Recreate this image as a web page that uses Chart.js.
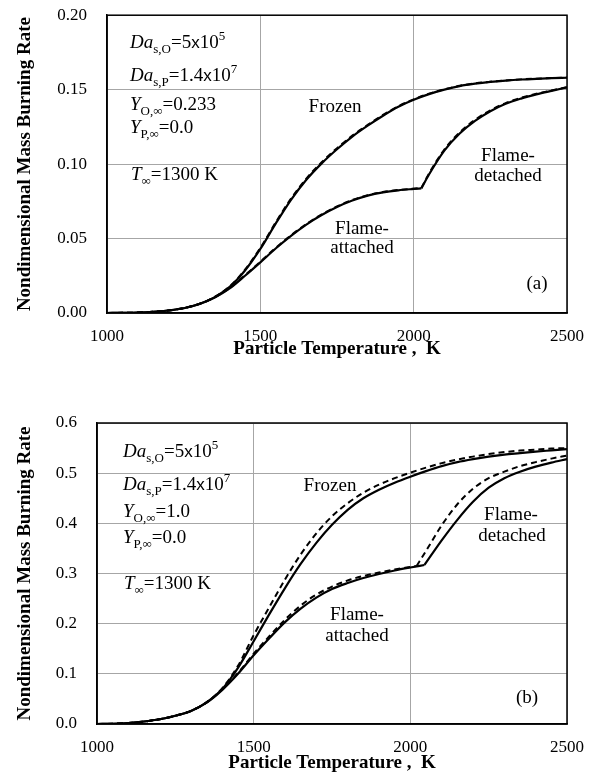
<!DOCTYPE html>
<html>
<head>
<meta charset="utf-8">
<script src="https://cdn.jsdelivr.net/npm/chart.js@4.4.1/dist/chart.umd.min.js"></script>
<style>
  body { margin: 0; background: #fff; }
  .panel { position: absolute; left: 0; width: 597px; }
  #panel-a { top: -15px; height: 377px; }
  #panel-b { top: 380px; height: 396px; }
</style>
</head>
<body>
<div class="panel" id="panel-a"><canvas id="chart-a" width="597" height="377"></canvas></div>
<div class="panel" id="panel-b"><canvas id="chart-b" width="597" height="396"></canvas></div>
<script>
// Particle temperature grid (K)
const temps = [1000, 1050, 1100, 1150, 1200, 1250, 1300, 1350, 1400, 1450, 1500,
               1550, 1600, 1650, 1700, 1750, 1800, 1850, 1900, 1950, 2000,
               2050, 2100, 2150, 2200, 2250, 2300, 2350, 2400, 2450, 2500];

// --- panel (a): Y_O = 0.233 ---
const frozenA     = [0, 0.0001, 0.0003, 0.0008, 0.0017, 0.0032, 0.0060, 0.0105, 0.0175, 0.0285, 0.0430,
                     0.0600, 0.0760, 0.0895, 0.1005, 0.1100, 0.1185, 0.1258, 0.1325, 0.1385, 0.1432,
                     0.1470, 0.1500, 0.1524, 0.1540, 0.1552, 0.1561, 0.1568, 0.1573, 0.1577, 0.1580];
const frozenADash = [0, 0.0001, 0.0003, 0.0008, 0.0017, 0.0033, 0.0061, 0.0107, 0.0179, 0.0291, 0.0437,
                     0.0608, 0.0768, 0.0903, 0.1012, 0.1107, 0.1191, 0.1263, 0.1330, 0.1389, 0.1435,
                     0.1473, 0.1502, 0.1526, 0.1542, 0.1553, 0.1562, 0.1569, 0.1574, 0.1578, 0.1581];

const attachedTempsA = [1000, 1050, 1100, 1150, 1200, 1250, 1300, 1350, 1400, 1450, 1500,
                        1550, 1600, 1650, 1700, 1750, 1800, 1850, 1900, 1950, 2000, 2025];
const attachedA     = [0, 0.0001, 0.0003, 0.0008, 0.0017, 0.0032, 0.0059, 0.0102, 0.0165, 0.0250, 0.0340,
                       0.0433, 0.0518, 0.0594, 0.0658, 0.0712, 0.0755, 0.0788, 0.0810, 0.0824, 0.0833, 0.0837];
const attachedADash = [0, 0.0001, 0.0003, 0.0008, 0.0017, 0.0033, 0.0060, 0.0104, 0.0168, 0.0254, 0.0344,
                       0.0437, 0.0522, 0.0598, 0.0662, 0.0716, 0.0759, 0.0791, 0.0813, 0.0826, 0.0835, 0.0839];

const detachedTempsA = [2025, 2050, 2100, 2150, 2200, 2250, 2300, 2350, 2400, 2450, 2500];
const detachedA      = [0.0837, 0.0930, 0.1090, 0.1205, 0.1290, 0.1355, 0.1405, 0.1440, 0.1468, 0.1492, 0.1515];
const detachedADash  = [0.0839, 0.0937, 0.1098, 0.1213, 0.1297, 0.1361, 0.1410, 0.1445, 0.1472, 0.1495, 0.1517];

// --- panel (b): Y_O = 1.0 ---
const frozenB     = [0, 0.0005, 0.0020, 0.0050, 0.0095, 0.0165, 0.0260, 0.0430, 0.0700, 0.1120, 0.1650,
                     0.2190, 0.2710, 0.3190, 0.3610, 0.3970, 0.4270, 0.4500, 0.4670, 0.4810, 0.4930,
                     0.5040, 0.5140, 0.5220, 0.5280, 0.5330, 0.5370, 0.5400, 0.5430, 0.5455, 0.5480];
const frozenBDash = [0, 0.0005, 0.0020, 0.0050, 0.0095, 0.0165, 0.0262, 0.0435, 0.0715, 0.1160, 0.1770,
                     0.2330, 0.2880, 0.3380, 0.3800, 0.4140, 0.4400, 0.4610, 0.4770, 0.4900, 0.5010,
                     0.5110, 0.5200, 0.5270, 0.5330, 0.5380, 0.5420, 0.5450, 0.5470, 0.5490, 0.5500];

const attachedTempsB     = [1000, 1050, 1100, 1150, 1200, 1250, 1300, 1350, 1400, 1450, 1500,
                            1550, 1600, 1650, 1700, 1750, 1800, 1850, 1900, 1950, 2000, 2045];
const attachedB          = [0, 0.0005, 0.0020, 0.0050, 0.0095, 0.0165, 0.0260, 0.0425, 0.0680, 0.1000, 0.1370,
                            0.1710, 0.2030, 0.2300, 0.2520, 0.2690, 0.2810, 0.2910, 0.2990, 0.3060, 0.3120, 0.3170];
const attachedDashTempsB = [1000, 1050, 1100, 1150, 1200, 1250, 1300, 1350, 1400, 1450, 1500,
                            1550, 1600, 1650, 1700, 1750, 1800, 1850, 1900, 1950, 2000, 2020];
const attachedBDash      = [0, 0.0005, 0.0020, 0.0050, 0.0095, 0.0165, 0.0262, 0.0430, 0.0690, 0.1020, 0.1400,
                            0.1750, 0.2080, 0.2360, 0.2580, 0.2740, 0.2860, 0.2950, 0.3020, 0.3080, 0.3130, 0.3150];

const detachedTempsB     = [2045, 2100, 2150, 2200, 2250, 2300, 2350, 2400, 2450, 2500];
const detachedB          = [0.317, 0.366, 0.407, 0.443, 0.471, 0.490, 0.503, 0.513, 0.521, 0.528];
const detachedDashTempsB = [2020, 2050, 2100, 2150, 2200, 2250, 2300, 2350, 2400, 2450, 2500];
const detachedBDash      = [0.315, 0.345, 0.396, 0.438, 0.469, 0.490, 0.503, 0.514, 0.522, 0.529, 0.535];

// Axis ticks
const xTicks  = [1000, 1500, 2000, 2500];
const yTicksA = [0, 0.05, 0.10, 0.15, 0.20];
const yTicksB = [0, 0.1, 0.2, 0.3, 0.4, 0.5, 0.6];

const SERIF = "'Liberation Serif', 'Times New Roman', serif";
const SANS = "'Liberation Sans', Arial, sans-serif";

const pts = (xs, ys) => xs.map((x, i) => ({ x, y: ys[i] }));

function curve(xs, ys, dashed) {
    return {
        data: pts(xs, ys),
        borderColor: '#000',
        borderWidth: dashed ? 2 : 2.2,
        borderDash: dashed ? [6, 4] : [],
        pointRadius: 0,
        fill: false,
        cubicInterpolationMode: 'monotone'
    };
}

// Draws mixed italic / sub / superscript text left to right
function drawRich(ctx, x, y, parts) {
    parts.forEach(([text, kind]) => {
        let font = `19px ${SERIF}`;
        let dy = 0;
        if (kind === 'i') font = `italic 19px ${SERIF}`;
        if (kind === 'sub') { font = `13px ${SERIF}`; dy = 5; }
        if (kind === 'sup') { font = `13px ${SERIF}`; dy = -8; }
        if (kind === 'x') font = `17px ${SANS}`;
        ctx.font = font;
        ctx.fillText(text, x, y + dy);
        x += ctx.measureText(text).width;
    });
}

// Plot frame plus the parameter block and curve names (given in page coords)
const notesPlugin = {
    id: 'notes',
    afterDraw(chart, args, opts) {
        const { ctx, chartArea: a } = chart;
        ctx.save();
        ctx.strokeStyle = '#000';
        ctx.lineWidth = 1.5;
        ctx.strokeRect(a.left, a.top, a.right - a.left, a.bottom - a.top);

        ctx.translate(0, -opts.panelTop);
        ctx.fillStyle = '#000';
        ctx.textAlign = 'left';
        ctx.textBaseline = 'alphabetic';
        (opts.params || []).forEach(p => drawRich(ctx, p.x, p.y, p.parts));

        ctx.textAlign = 'center';
        ctx.textBaseline = 'middle';
        ctx.font = `19px ${SERIF}`;
        (opts.labels || []).forEach(l => ctx.fillText(l.text, l.x, l.y));
        ctx.restore();
    }
};

function paramLines(x, ys, yO) {
    return [
        { x, y: ys[0], parts: [['Da', 'i'], ['s,O', 'sub'], ['=5', 'n'], ['x', 'x'], ['10', 'n'], ['5', 'sup']] },
        { x, y: ys[1], parts: [['Da', 'i'], ['s,P', 'sub'], ['=1.4', 'n'], ['x', 'x'], ['10', 'n'], ['7', 'sup']] },
        { x, y: ys[2], parts: [['Y', 'i'], ['O,\u221E', 'sub'], ['=' + yO, 'n']] },
        { x, y: ys[3], parts: [['Y', 'i'], ['P,\u221E', 'sub'], ['=0.0', 'n']] },
        { x: x + 1, y: ys[4], parts: [['T', 'i'], ['\u221E', 'sub'], ['=1300 K', 'n']] }
    ];
}

function buildChart(id, cfg) {
    const yTicks = cfg.yTicks;
    return new Chart(document.getElementById(id), {
        type: 'line',
        data: { datasets: cfg.datasets },
        plugins: [notesPlugin],
        options: {
            responsive: false,
            animation: false,
            events: [],
            layout: { padding: cfg.padding },
            plugins: {
                legend: { display: false },
                tooltip: { enabled: false },
                notes: cfg.notes
            },
            scales: {
                x: {
                    type: 'linear',
                    min: xTicks[0],
                    max: xTicks[xTicks.length - 1],
                    afterBuildTicks: s => { s.ticks = xTicks.map(v => ({ value: v })); },
                    afterFit: s => { s.height = cfg.xHeight; },
                    ticks: { color: '#000', padding: 13, font: { family: SERIF, size: 17 }, maxRotation: 0, callback: v => String(v) },
                    grid: { color: '#a6a6a6', lineWidth: 1, drawTicks: false },
                    border: { color: '#000', width: 1.5 },
                    title: {
                        display: true,
                        text: 'Particle Temperature ,  K',
                        color: '#000',
                        font: { family: SERIF, size: 19, weight: 'bold' },
                        padding: { top: 0, bottom: 2 }
                    }
                },
                y: {
                    min: yTicks[0],
                    max: yTicks[yTicks.length - 1],
                    afterBuildTicks: s => { s.ticks = yTicks.map(v => ({ value: v })); },
                    afterFit: s => { s.width = cfg.yWidth; },
                    ticks: { color: '#000', padding: 20, font: { family: SERIF, size: 17 }, callback: v => v.toFixed(cfg.digits) },
                    grid: { color: '#a6a6a6', lineWidth: 1, drawTicks: false },
                    border: { color: '#000', width: 1.5 },
                    title: {
                        display: true,
                        text: 'Nondimensional Mass Burning Rate',
                        color: '#000',
                        font: { family: SERIF, size: 19, weight: 'bold' },
                        padding: { top: 14, bottom: 0 }
                    }
                }
            }
        }
    });
}

buildChart('chart-a', {
    yTicks: yTicksA,
    digits: 2,
    yWidth: 107,
    xHeight: 49,
    padding: { left: 0, top: 30, right: 28, bottom: 0 },
    datasets: [
        curve(temps, frozenA, false),
        curve(temps, frozenADash, true),
        curve(attachedTempsA, attachedA, false),
        curve(attachedTempsA, attachedADash, true),
        curve(detachedTempsA, detachedA, false),
        curve(detachedTempsA, detachedADash, true)
    ],
    notes: {
        panelTop: -15,
        params: paramLines(130, [48, 81, 110, 133, 180], '0.233'),
        labels: [
            { text: 'Frozen', x: 335, y: 107 },
            { text: 'Flame-', x: 508, y: 156 },
            { text: 'detached', x: 508, y: 176 },
            { text: 'Flame-', x: 362, y: 229 },
            { text: 'attached', x: 362, y: 248 },
            { text: '(a)', x: 537, y: 284 }
        ]
    }
});

buildChart('chart-b', {
    yTicks: yTicksB,
    digits: 1,
    yWidth: 97,
    xHeight: 52,
    padding: { left: 0, top: 43, right: 27, bottom: 0 },
    datasets: [
        curve(temps, frozenB, false),
        curve(temps, frozenBDash, true),
        curve(attachedTempsB, attachedB, false),
        curve(attachedDashTempsB, attachedBDash, true),
        curve(detachedTempsB, detachedB, false),
        curve(detachedDashTempsB, detachedBDash, true)
    ],
    notes: {
        panelTop: 380,
        params: paramLines(123, [457, 490, 517, 543, 589], '1.0'),
        labels: [
            { text: 'Frozen', x: 330, y: 486 },
            { text: 'Flame-', x: 511, y: 515 },
            { text: 'detached', x: 512, y: 536 },
            { text: 'Flame-', x: 357, y: 615 },
            { text: 'attached', x: 357, y: 636 },
            { text: '(b)', x: 527, y: 698 }
        ]
    }
});
</script>
</body>
</html>
